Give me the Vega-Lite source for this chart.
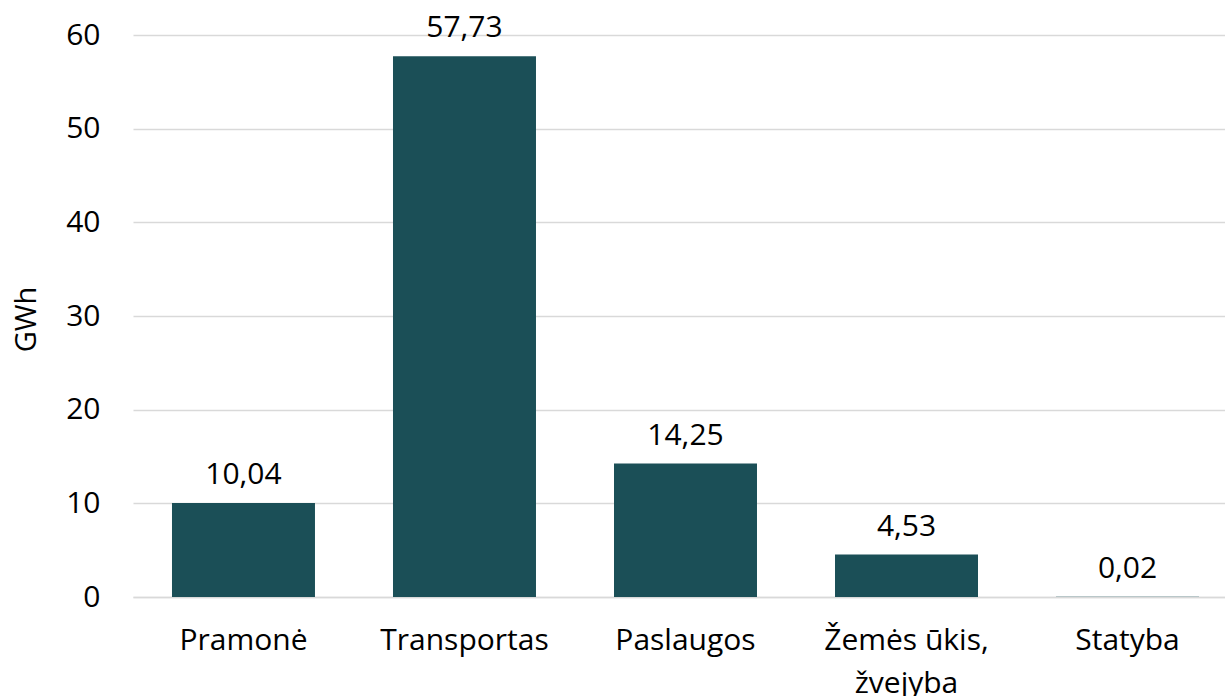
{
  "$schema": "https://vega.github.io/schema/vega-lite/v6.json",
  "autosize": "none",
  "width": 1092,
  "height": 562,
  "padding": {"left": 133, "top": 35, "right": 0, "bottom": 99},
  "background": "white",
  "config": {
    "view": {"stroke": null},
    "font": "Open Sans",
    "locale": {"number": {"decimal": ",", "thousands": " ", "grouping": [3], "currency": ["", " €"]}}
  },
  "data": {
    "values": [
      {"sector": "Pramonė", "value": 10.04},
      {"sector": "Transportas", "value": 57.73},
      {"sector": "Paslaugos", "value": 14.25},
      {"sector": "Žemės ūkis, žvejyba", "value": 4.53},
      {"sector": "Statyba", "value": 0.02}
    ]
  },
  "encoding": {
    "x": {
      "field": "sector", "type": "nominal", "sort": null,
      "scale": {"paddingInner": 0.353, "paddingOuter": 0.147, "align": 0.6},
      "axis": {
        "title": null, "labelAngle": 0, "ticks": false,
        "domainColor": "#d9d9d9", "domainWidth": 1.5,
        "labelFont": "Open Sans", "labelFontSize": 30, "labelColor": "#000000",
        "labelBaseline": "top", "labelPadding": 28, "labelLineHeight": 43,
        "labelExpr": "split(replace(datum.label, ', ', ',|'), '|')"
      }
    },
    "y": {
      "field": "value", "type": "quantitative",
      "scale": {"domain": [0, 60], "nice": false},
      "axis": {
        "title": "GWh", "values": [0, 10, 20, 30, 40, 50, 60],
        "domain": false, "ticks": false,
        "gridColor": "#d9d9d9", "gridWidth": 1.5,
        "labelFont": "Open Sans", "labelFontSize": 30, "labelColor": "#000000",
        "labelPadding": 33,
        "titleFont": "Open Sans", "titleFontSize": 29, "titleFontWeight": "normal", "titleColor": "#000000",
        "titleX": -107, "titleY": 284, "titleBaseline": "middle", "titleAlign": "center", "titleAngle": -90
      }
    }
  },
  "layer": [
    {"mark": {"type": "bar", "color": "#1b4f57"}},
    {
      "mark": {"type": "text", "font": "Open Sans", "fontSize": 30, "color": "#000000", "baseline": "alphabetic", "dy": -19},
      "encoding": {"text": {"field": "value", "type": "quantitative", "format": ".2f"}}
    }
  ]
}
